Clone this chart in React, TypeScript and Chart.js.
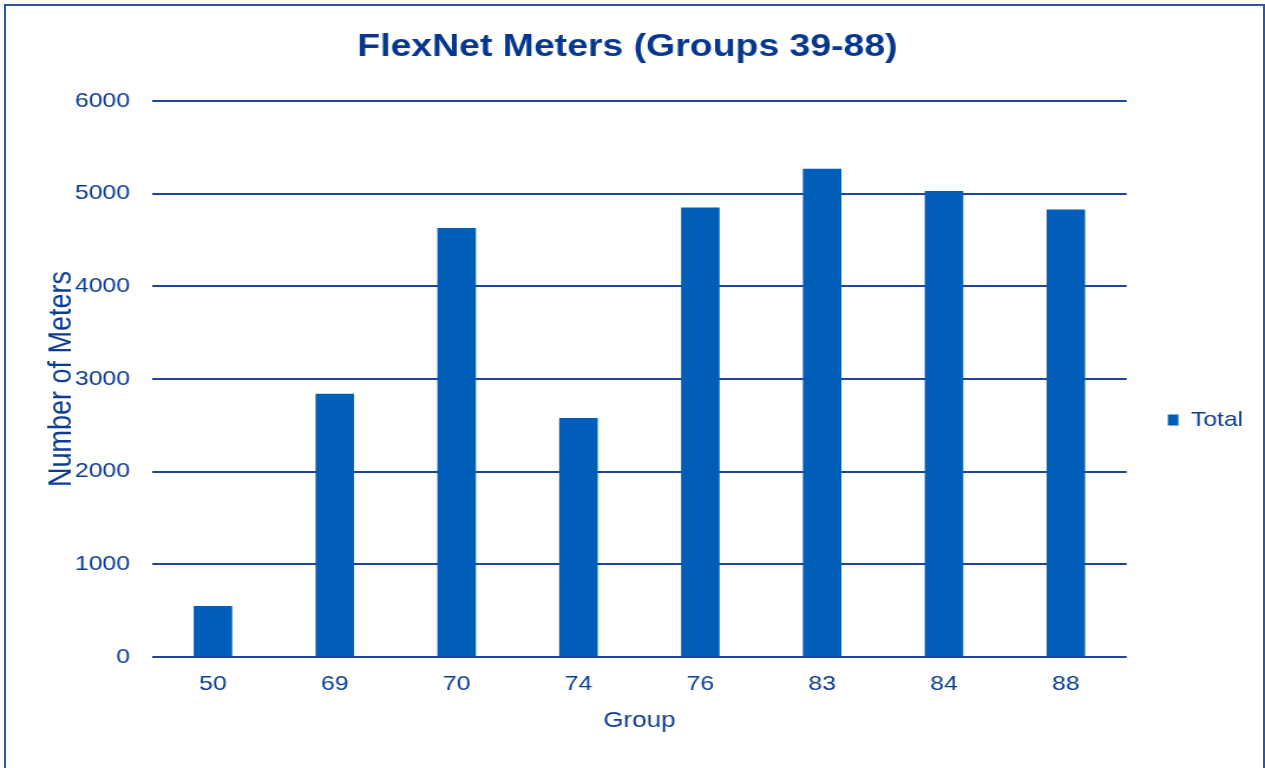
import { useEffect, useRef } from 'react';
import { Chart, registerables } from 'chart.js';

Chart.register(...registerables);

// ---- data ----
const groups = ['50', '69', '70', '74', '76', '83', '84', '88'];
const totals = [550, 2840, 4630, 2580, 4850, 5270, 5030, 4830];
const yMin = 0;
const yMax = 6000;
const yStep = 1000;
const chartTitle = 'FlexNet Meters (Groups 39-88)';
const seriesName = 'Total';
const xAxisTitle = 'Group';
const yAxisTitle = 'Number of Meters';

// ---- presentation ----
const VIEW_W = 1265;
const VIEW_H = 768;
const STRETCH = 1.18; // the reference is horizontally stretched
const CANVAS_W = Math.round(VIEW_W / STRETCH);
const FONT = "'Liberation Sans', Arial, sans-serif";
const TEXT = '#0C3C92';
const TITLE_COLOR = '#06378F';
const BAR = '#005EB8';
const GRID = '#1F449C';

export default function App() {
  const ref = useRef<HTMLCanvasElement>(null);

  useEffect(() => {
    if (!ref.current) return;
    Chart.defaults.font.family = FONT;
    const chart = new Chart(ref.current, {
      type: 'bar',
      data: {
        labels: groups,
        datasets: [
          {
            label: seriesName,
            data: totals,
            backgroundColor: BAR,
            borderWidth: 0,
            barPercentage: 0.316,
            categoryPercentage: 1,
          },
        ],
      },
      options: {
        responsive: false,
        animation: false,
        devicePixelRatio: 1,
        layout: { padding: { left: 0, right: 8.5, top: 0, bottom: 33.8 } },
        plugins: {
          title: {
            display: true,
            text: chartTitle,
            color: TITLE_COLOR,
            font: { size: 31.7, weight: 'bold', family: FONT },
            padding: { top: 28, bottom: 34.96 },
          },
          legend: {
            display: true,
            position: 'right',
            align: 'center',
            title: {
              display: true,
              text: '',
              font: { size: 10, lineHeight: 1 },
              padding: { top: 95.8, bottom: 0 },
            },
            labels: {
              boxWidth: 9,
              boxHeight: 11,
              padding: 34.8,
              color: TEXT,
              font: { size: 21, family: FONT },
            },
          },
          tooltip: { enabled: false },
        },
        scales: {
          x: {
            grid: { display: false, drawTicks: false },
            border: { display: false },
            ticks: { color: TEXT, font: { size: 21, family: FONT }, padding: 14.4 },
            title: {
              display: true,
              text: xAxisTitle,
              color: TEXT,
              font: { size: 22, family: FONT },
              padding: { top: -3.2, bottom: 0 },
            },
          },
          y: {
            min: yMin,
            max: yMax,
            ticks: {
              stepSize: yStep,
              format: { useGrouping: false },
              color: TEXT,
              font: { size: 21, family: FONT },
              padding: 18.6,
            },
            grid: { color: GRID, lineWidth: 2, drawTicks: false },
            border: { display: false },
            title: {
              display: true,
              text: yAxisTitle,
              color: TEXT,
              font: { size: 27, family: FONT, lineHeight: 0.9 },
              padding: { top: 40.45, bottom: -19.85 },
            },
          },
        },
      },
    });
    return () => chart.destroy();
  }, []);

  return (
    <div
      style={{
        position: 'absolute',
        left: 0,
        top: 0,
        width: VIEW_W,
        height: VIEW_H,
        overflow: 'hidden',
        background: '#ffffff',
      }}
    >
      <canvas
        ref={ref}
        width={CANVAS_W}
        height={VIEW_H}
        style={{ position: 'absolute', left: 0, top: 0, width: `${VIEW_W}px`, height: `${VIEW_H}px` }}
      />
      <div
        style={{
          position: 'absolute',
          left: 4,
          top: 4,
          width: VIEW_W - 4,
          height: 800,
          border: '2px solid #2C56A3',
          boxSizing: 'border-box',
          pointerEvents: 'none',
        }}
      />
    </div>
  );
}
